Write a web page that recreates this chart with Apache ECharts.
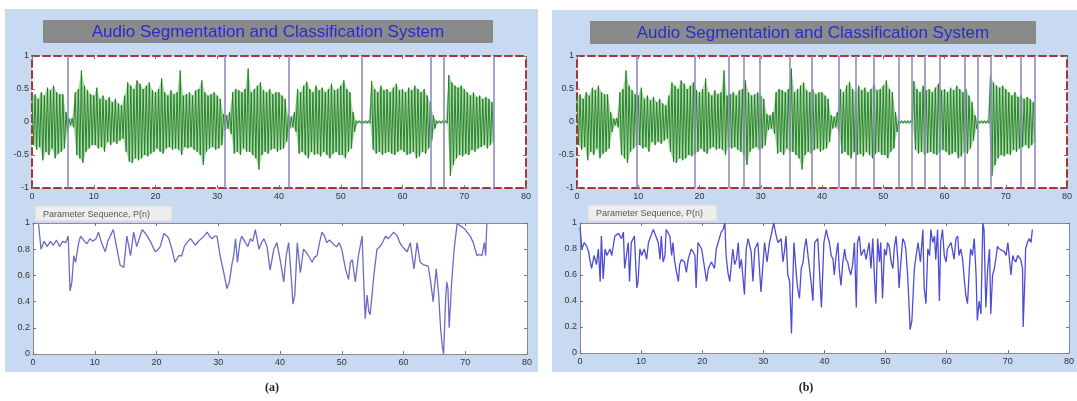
<!DOCTYPE html>
<html><head><meta charset="utf-8">
<script src="https://cdn.jsdelivr.net/npm/echarts/dist/echarts.min.js"></script>
<style>
html,body{margin:0;padding:0;background:#fff;}
#wrap{position:relative;width:1077px;height:401px;}
.panel{position:absolute;background:#c8daf2;}
#c{position:absolute;left:0;top:0;width:1077px;height:401px;}
</style>
</head><body>
<div id="wrap">
<div class="panel" style="left:5px;top:9px;width:533px;height:363px"></div>
<div class="panel" style="left:552px;top:10px;width:525px;height:362px"></div>
<div id="c"></div>
</div>
<script>
// ---------- DATA ----------
const titleText = 'Audio Segmentation and Classification System';
const legendText = 'Parameter Sequence, P(n)';
const captions = ['(a)', '(b)'];
const xTicks = [0, 80, 10];        // min, max, interval
const waveStep = 0.5;              // envelope sampling step (time units)
// waveform envelope (upper / lower), t = 0, 0.5, ... 74.5
const waveHi = [
 0.38,0.42,0.35,0.45,0.40,0.52,0.48,0.55,0.45,0.42,
 0.42,0.15,0.05,0.06,0.45,0.50,0.78,0.55,0.48,0.42,
 0.40,0.52,0.35,0.40,0.33,0.38,0.30,0.35,0.28,0.25,
 0.40,0.60,0.55,0.50,0.63,0.58,0.50,0.55,0.60,0.48,
 0.45,0.50,0.66,0.45,0.40,0.48,0.42,0.45,0.78,0.40,
 0.42,0.45,0.40,0.48,0.50,0.63,0.45,0.40,0.42,0.45,
 0.40,0.35,0.12,0.10,0.15,0.45,0.50,0.48,0.45,0.50,
 0.81,0.45,0.50,0.55,0.60,0.48,0.45,0.50,0.42,0.45,
 0.45,0.40,0.35,0.10,0.08,0.15,0.50,0.45,0.55,0.61,
 0.50,0.45,0.55,0.48,0.52,0.45,0.50,0.58,0.48,0.50,
 0.55,0.63,0.50,0.45,0.15,0.02,0.02,0.02,0.02,0.02,
 0.62,0.50,0.45,0.55,0.48,0.50,0.45,0.52,0.58,0.48,
 0.50,0.45,0.52,0.48,0.55,0.50,0.45,0.50,0.40,0.30,
 0.10,0.02,0.02,0.02,0.02,0.71,0.60,0.55,0.52,0.55,
 0.50,0.45,0.40,0.45,0.38,0.40,0.35,0.38,0.35,0.30
];
const waveLo = [
 -0.35,-0.42,-0.38,-0.58,-0.45,-0.50,-0.40,-0.55,-0.48,-0.45,
 -0.40,-0.15,-0.05,-0.08,-0.50,-0.55,-0.62,-0.45,-0.40,-0.35,
 -0.35,-0.40,-0.38,-0.45,-0.30,-0.35,-0.30,-0.33,-0.28,-0.25,
 -0.45,-0.60,-0.62,-0.55,-0.58,-0.55,-0.50,-0.52,-0.48,-0.45,
 -0.40,-0.45,-0.48,-0.40,-0.38,-0.42,-0.40,-0.42,-0.50,-0.38,
 -0.40,-0.38,-0.42,-0.45,-0.50,-0.65,-0.45,-0.40,-0.38,-0.42,
 -0.40,-0.35,-0.12,-0.10,-0.18,-0.48,-0.45,-0.50,-0.40,-0.45,
 -0.45,-0.50,-0.55,-0.72,-0.50,-0.45,-0.48,-0.42,-0.40,-0.45,
 -0.42,-0.40,-0.30,-0.10,-0.08,-0.15,-0.48,-0.45,-0.50,-0.55,
 -0.45,-0.50,-0.48,-0.52,-0.45,-0.50,-0.55,-0.48,-0.45,-0.50,
 -0.50,-0.55,-0.45,-0.40,-0.15,-0.02,-0.02,-0.02,-0.02,-0.02,
 -0.42,-0.48,-0.45,-0.50,-0.47,-0.45,-0.48,-0.50,-0.45,-0.42,
 -0.45,-0.50,-0.48,-0.45,-0.55,-0.52,-0.45,-0.48,-0.40,-0.28,
 -0.10,-0.02,-0.02,-0.02,-0.02,-0.82,-0.65,-0.55,-0.50,-0.52,
 -0.48,-0.50,-0.42,-0.45,-0.40,-0.38,-0.35,-0.40,-0.35,-0.30
];
// segment boundaries
const boundsA = [5.8, 31.2, 41.6, 53.4, 64.5, 66.6, 74.7];
const boundsB = [9.7, 19.3, 24.8, 27.3, 29.9, 34.8, 38.4, 42.7, 45.5, 48.4, 52.5, 54.7, 56.8, 59.3, 63.3, 65.5, 67.6, 72.5, 74.8];
// parameter sequence P(n) [t, value]
const pSeqA = [
 [0.9,0.99],[1.3,0.80],[1.8,0.86],[2.3,0.82],[2.8,0.86],[3.3,0.83],[3.8,0.87],[4.3,0.82],[4.8,0.86],[5.3,0.85],
 [5.7,0.90],[6.0,0.48],[6.3,0.55],[6.6,0.75],[6.9,0.70],[7.4,0.85],[7.7,0.90],[8.2,0.87],[8.7,0.84],[9.2,0.88],
 [9.7,0.86],[10.2,0.88],[10.6,0.93],[11.1,0.85],[11.7,0.78],[12.1,0.86],[12.5,0.90],[13.0,0.95],[13.6,0.80],[14.1,0.68],
 [14.7,0.66],[15.2,0.90],[15.8,0.75],[16.3,0.93],[16.8,0.82],[17.2,0.88],[17.7,0.95],[18.2,0.92],[18.5,0.90],[19.1,0.85],
 [19.8,0.78],[20.3,0.80],[20.6,0.82],[21.2,0.92],[21.7,0.90],[22.0,0.88],[22.5,0.80],[23.0,0.70],[23.6,0.75],[24.1,0.75],
 [24.5,0.82],[24.9,0.85],[25.5,0.88],[26.0,0.85],[26.3,0.83],[26.8,0.86],[27.1,0.85],[27.7,0.90],[28.2,0.93],[28.6,0.90],
 [29.0,0.88],[29.4,0.90],[29.8,0.90],[30.3,0.75],[30.9,0.62],[31.4,0.50],[31.8,0.55],[32.2,0.68],[32.5,0.75],[32.8,0.88],
 [33.1,0.70],[33.5,0.85],[33.8,0.90],[34.4,0.85],[34.8,0.82],[35.2,0.88],[35.6,0.86],[36.0,0.95],[36.6,0.80],[37.0,0.85],
 [37.4,0.88],[37.9,0.82],[38.4,0.64],[39.0,0.80],[39.5,0.85],[40.1,0.70],[40.6,0.55],[41.0,0.75],[41.4,0.85],[41.8,0.60],
 [42.1,0.38],[42.4,0.45],[42.8,0.85],[43.3,0.62],[43.8,0.80],[44.2,0.78],[44.6,0.75],[45.2,0.70],[45.6,0.74],[46.0,0.75],
 [46.4,0.85],[46.8,0.93],[47.2,0.90],[47.6,0.85],[48.0,0.87],[48.4,0.85],[48.8,0.83],[49.2,0.82],[49.6,0.85],[50.0,0.80],
 [50.6,0.65],[51.1,0.57],[51.4,0.70],[51.7,0.72],[52.2,0.55],[52.7,0.75],[53.3,0.90],[53.6,0.50],[53.8,0.27],[54.1,0.45],
 [54.4,0.32],[54.6,0.30],[55.2,0.60],[55.7,0.80],[56.2,0.82],[56.7,0.86],[57.1,0.90],[57.5,0.88],[57.9,0.90],[58.4,0.93],
 [59.0,0.90],[59.4,0.85],[59.8,0.82],[60.2,0.80],[60.6,0.78],[61.1,0.85],[61.4,0.75],[61.7,0.65],[62.2,0.85],[62.7,0.70],
 [63.3,0.68],[63.6,0.68],[64.0,0.67],[64.4,0.55],[64.8,0.40],[65.3,0.65],[65.7,0.45],[66.0,0.20],[66.3,0.05],[66.5,0.00],
 [66.8,0.40],[67.0,0.55],[67.2,0.50],[67.4,0.20],[67.8,0.55],[68.2,0.80],[68.7,1.00],[69.1,0.98],[69.5,0.97],[70.0,0.95],
 [70.3,0.93],[70.8,0.90],[71.3,0.85],[71.9,0.75],[72.3,0.76],[72.7,0.75],[73.1,0.85],[73.3,0.75],[73.5,1.00]
];
const pSeqB = [
 [0,0.97],[0.3,0.80],[0.7,0.85],[1.1,0.82],[1.4,0.78],[1.6,0.72],[1.9,0.65],[2.3,0.75],[2.7,0.68],[3.0,0.80],
 [3.3,0.55],[3.5,0.90],[3.8,0.57],[4.1,0.80],[4.4,0.75],[4.9,0.80],[5.2,0.75],[5.7,0.90],[6.3,0.92],[6.8,0.88],
 [7.1,0.93],[7.3,0.65],[7.6,0.75],[7.9,0.85],[8.1,0.55],[8.4,0.85],[8.9,0.90],[9.3,0.50],[9.5,0.55],[9.8,0.80],
 [10.1,0.75],[10.5,0.80],[10.9,0.72],[11.2,0.85],[11.6,0.90],[12.0,0.95],[12.4,0.90],[12.8,0.85],[13.1,0.72],[13.3,0.90],
 [13.6,0.70],[13.9,0.75],[14.1,0.95],[14.7,0.90],[15.0,0.75],[15.2,0.85],[15.5,0.70],[15.8,0.62],[16.1,0.55],[16.3,0.68],
 [16.6,0.72],[17.1,0.70],[17.4,0.62],[17.7,0.72],[18.2,0.80],[18.5,0.78],[18.8,0.75],[19.0,0.50],[19.3,0.85],[19.9,0.80],
 [20.4,0.65],[20.7,0.55],[21.0,0.65],[21.5,0.70],[22.0,0.65],[22.3,0.80],[22.6,0.85],[23.1,0.93],[23.4,0.95],[23.7,1.00],
 [23.9,0.75],[24.2,0.62],[24.5,0.55],[24.8,0.70],[25.0,0.80],[25.3,0.68],[25.6,0.72],[25.9,0.85],[26.1,0.65],[26.4,0.72],
 [26.9,0.45],[27.2,0.80],[27.5,0.88],[28.0,0.78],[28.3,0.55],[28.6,0.80],[29.1,0.85],[29.6,0.47],[30.2,0.85],[30.6,0.70],
 [31.0,0.85],[31.3,0.85],[31.7,1.00],[32.1,0.90],[32.4,0.85],[32.9,0.88],[33.2,0.70],[33.5,0.80],[33.7,0.90],[34.0,0.60],
 [34.3,0.55],[34.6,0.15],[34.7,0.35],[35.0,0.85],[35.4,0.60],[35.6,0.50],[35.9,0.42],[36.2,0.65],[36.5,0.70],[36.7,0.80],
 [37.0,0.88],[37.3,0.75],[37.8,0.55],[38.1,0.40],[38.4,0.85],[38.9,0.88],[39.5,0.35],[39.9,0.85],[40.3,0.95],[40.5,0.90],
 [40.8,0.85],[41.1,0.75],[41.4,0.72],[41.6,0.60],[41.9,0.75],[42.2,0.85],[42.4,0.65],[42.7,0.52],[43.0,0.70],[43.3,0.80],
 [43.5,0.72],[43.8,0.70],[44.0,0.65],[44.3,0.60],[44.6,0.68],[44.9,0.85],[45.2,0.35],[45.4,0.85],[45.7,0.90],[46.0,0.75],
 [46.5,0.80],[46.8,0.72],[47.3,0.85],[47.6,0.65],[47.9,0.88],[48.2,0.55],[48.4,0.38],[48.7,0.88],[49.0,0.70],[49.2,0.85],
 [49.5,0.42],[49.8,0.80],[50.1,0.75],[50.3,0.85],[50.6,0.82],[50.9,0.70],[51.2,0.65],[51.4,0.80],[51.7,0.90],[52.0,0.72],
 [52.2,0.50],[52.5,0.70],[52.8,0.88],[53.1,0.85],[53.3,0.80],[53.6,0.60],[53.9,0.30],[54.0,0.18],[54.3,0.25],[54.5,0.45],
 [54.7,0.65],[55.0,0.75],[55.3,0.85],[55.7,0.70],[56.1,0.95],[56.3,0.50],[56.6,0.38],[56.9,0.80],[57.2,0.75],[57.4,0.95],
 [57.7,0.85],[58.0,0.90],[58.2,0.72],[58.5,0.95],[58.8,0.40],[59.0,0.85],[59.3,0.95],[59.6,0.75],[59.9,0.70],[60.1,0.80],
 [60.7,0.85],[61.2,0.72],[61.5,0.88],[61.8,0.90],[62.0,0.75],[62.3,0.80],[62.6,0.72],[62.9,0.55],[63.1,0.45],[63.4,0.38],
 [63.7,0.65],[63.9,0.80],[64.2,0.75],[64.5,0.88],[64.8,0.60],[65.0,0.25],[65.3,0.40],[65.6,0.30],[65.9,1.00],[66.1,0.95],
 [66.4,0.35],[66.7,0.65],[67.0,0.80],[67.2,0.30],[67.5,0.60],[67.8,0.65],[68.1,0.75],[68.3,0.82],[68.6,0.80],[68.9,0.80],
 [69.4,0.78],[69.7,0.75],[70.0,0.85],[70.5,0.60],[70.8,0.75],[71.0,0.72],[71.3,0.70],[71.6,0.75],[72.1,0.72],[72.4,0.65],
 [72.5,0.20],[72.8,0.60],[72.9,0.80],[73.2,0.85],[73.5,0.88],[73.8,0.85],[74.0,0.95]
];

// ---------- BUILD ----------
const waveData = [], hiData = [], loData = [];
for (let i = 0; i < waveHi.length; i++) {
  const t = i * waveStep;
  waveData.push([t, waveHi[i]]);
  waveData.push([t + waveStep / 2, waveLo[i]]);
  hiData.push([t, waveHi[i]]);
  loData.push([t + waveStep / 2, waveLo[i]]);
}

const grids = [
  {left: 32, top: 56, width: 494, height: 132},
  {left: 33, top: 223, width: 494, height: 131},
  {left: 577, top: 56, width: 490, height: 132},
  {left: 580, top: 223, width: 490, height: 130}
].map(g => Object.assign({show: true, backgroundColor: '#ffffff', borderWidth: 0, containLabel: false}, g));

const dashRed = {color: '#a83434', width: 2, type: [7, 4]};
const grayLine = {color: '#8c8c8c', width: 1};
const labelStyle = {fontSize: 9, color: '#333', fontFamily: 'Liberation Sans, Arial, sans-serif'};

function axesFor(gi, upper) {
  const line = upper ? dashRed : grayLine;
  const xs = [], ys = [];
  ['bottom', 'top'].forEach((pos, k) => {
    xs.push({
      type: 'value', gridIndex: gi, position: pos, min: xTicks[0], max: xTicks[1], interval: xTicks[2],
      axisLine: {show: true, onZero: false, lineStyle: line},
      axisTick: {show: true, inside: true, length: 3, lineStyle: {color: '#777'}},
      axisLabel: Object.assign({show: k === 0, margin: 4}, labelStyle),
      splitLine: {show: false}
    });
  });
  ['left', 'right'].forEach((pos, k) => {
    ys.push({
      type: 'value', gridIndex: gi, position: pos,
      min: upper ? -1 : 0, max: 1, interval: upper ? 0.5 : 0.2,
      axisLine: {show: true, onZero: false, lineStyle: line},
      axisTick: {show: true, inside: true, length: 3, lineStyle: {color: '#777'}},
      axisLabel: Object.assign({show: k === 0, margin: 3}, labelStyle),
      splitLine: {show: false}
    });
  });
  return {xs, ys};
}
const xAxis = [], yAxis = [];
[true, false, true, false].forEach((up, gi) => {
  const a = axesFor(gi, up);
  xAxis.push(...a.xs); yAxis.push(...a.ys);
});

function waveSeries(gi, bounds) {
  const common = {type: 'line', xAxisIndex: gi * 2, yAxisIndex: gi * 2, showSymbol: false, symbol: 'none', sampling: null, silent: true};
  return [
    Object.assign({}, common, {data: hiData, lineStyle: {width: 0},
      areaStyle: {color: '#6fb86f', opacity: 0.55, origin: 0}, z: 2}),
    Object.assign({}, common, {data: loData, lineStyle: {width: 0},
      areaStyle: {color: '#6fb86f', opacity: 0.55, origin: 0}, z: 2}),
    Object.assign({}, common, {data: waveData, lineStyle: {color: '#1b7d1b', width: 0.9},
      markLine: {
        symbol: 'none', silent: true, animation: false,
        label: {show: false},
        lineStyle: {color: '#8d8dbd', width: 1.6, type: 'solid'},
        data: bounds.map(v => ({xAxis: v}))
      }, z: 3})
  ];
}
function pSeries(gi, data, color, w) {
  return {
    type: 'line', xAxisIndex: gi * 2, yAxisIndex: gi * 2, data: data,
    showSymbol: false, symbol: 'none', silent: true,
    lineStyle: {color: color, width: w}, z: 3
  };
}

const titleBars = [{x: 43, y: 20, w: 450, h: 23}, {x: 590, y: 21, w: 446, h: 23}];
const legendBoxes = [{x: 35, y: 206, w: 137, h: 15}, {x: 588, y: 205, w: 129, h: 16}];
const captionPos = [272, 806];

const graphic = [];
titleBars.forEach(b => {
  graphic.push({type: 'rect', shape: {x: b.x, y: b.y, width: b.w, height: b.h}, style: {fill: '#8a8a8a'}, z: 10});
  graphic.push({type: 'text', x: b.x + b.w / 2, y: b.y + b.h / 2 + 1, z: 11,
    style: {text: titleText, fill: '#2a2ad2', font: '17px "Liberation Sans", Arial, sans-serif', align: 'center', verticalAlign: 'middle'}});
});
legendBoxes.forEach(b => {
  graphic.push({type: 'rect', shape: {x: b.x, y: b.y, width: b.w, height: b.h}, style: {fill: '#eeeeee', stroke: '#d8d8d8', lineWidth: 1}, z: 10});
  graphic.push({type: 'text', x: b.x + 8, y: b.y + b.h / 2 + 1, z: 11,
    style: {text: legendText, fill: '#555', font: '9px "Liberation Sans", Arial, sans-serif', align: 'left', verticalAlign: 'middle'}});
});
captions.forEach((c, i) => {
  graphic.push({type: 'text', x: captionPos[i], y: 388, z: 11,
    style: {text: c, fill: '#222', font: 'bold 12px "Liberation Serif", "Times New Roman", serif', align: 'center', verticalAlign: 'middle'}});
});

const chart = echarts.init(document.getElementById('c'), null, {renderer: 'canvas'});
chart.setOption({
  animation: false,
  backgroundColor: 'transparent',
  grid: grids,
  xAxis: xAxis,
  yAxis: yAxis,
  graphic: graphic,
  series: [
    ...waveSeries(0, boundsA),
    pSeries(1, pSeqA, '#6b6bc4', 1.3),
    ...waveSeries(2, boundsB),
    pSeries(3, pSeqB, '#4c4cd4', 1.3)
  ]
});
</script>
</body></html>
